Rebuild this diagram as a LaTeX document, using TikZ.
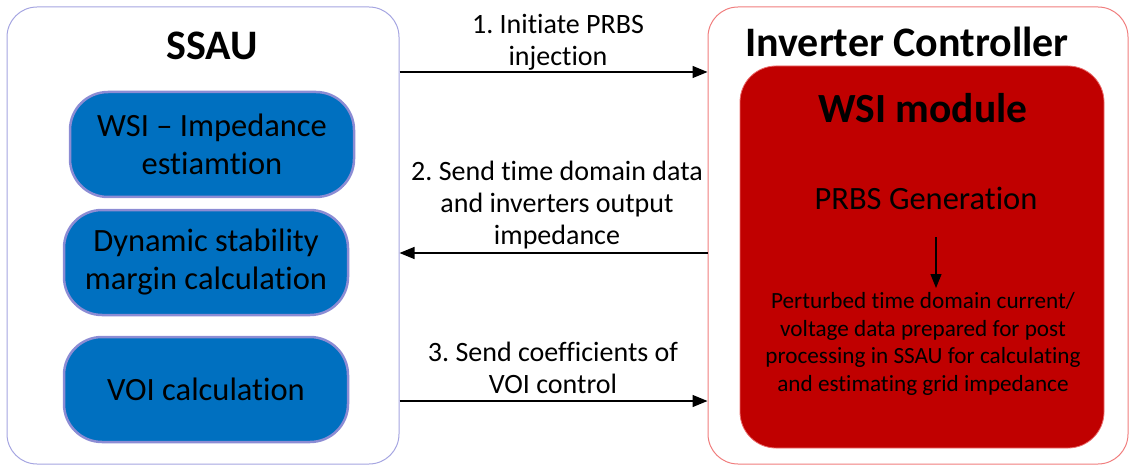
\documentclass[tikz,border=0pt]{standalone}
\usepackage{fontspec}
\setmainfont[Ligatures={NoCommon,NoRequired}]{Carlito}
\usetikzlibrary{arrows.meta}
\definecolor{ssauedge}{RGB}{165,165,225}
\definecolor{invedge}{RGB}{240,125,125}
\definecolor{modblue}{RGB}{0,112,192}
\definecolor{modedge}{RGB}{140,140,212}
\definecolor{wsired}{RGB}{192,0,0}
\definecolor{wsiedge}{RGB}{235,110,110}
\frenchspacing
\tikzset{
  frame/.style={draw, line width=1pt, rounded corners=30pt, inner sep=0pt},
  module/.style={draw=modedge, line width=2.5pt, fill=modblue, rounded corners=38pt,
    minimum width=284pt, minimum height=105pt, align=center, inner sep=0pt,
    font=\fontsize{32.5}{38}\selectfont},
  msg/.style={align=center, font=\fontsize{28}{32}\selectfont, inner sep=0pt},
  arr/.style={line width=1.3pt, -{Triangle[length=15pt,width=12pt]}},
}
\begin{document}
\begin{tikzpicture}[x=1pt,y=-1pt]
\useasboundingbox (0,0) rectangle (1129,465);
% outer frames
\node[frame, draw=ssauedge, minimum width=392pt, minimum height=457pt] (ssau) at (203,235.5) {};
\node[frame, draw=invedge, minimum width=420pt, minimum height=457pt] (inv) at (918,235.5) {};
\node[font=\bfseries\fontsize{42}{48}\selectfont] (ssaut) at (212,46) {SSAU};
\node[font=\bfseries\fontsize{42}{48}\selectfont] (invt) at (907,42) {Inverter Controller};
% SSAU modules
\node[module] (wsi) at (212,144.5) {WSI -- Impedance\\estiamtion};
\node[module] (dyn) at (206,262.5) {Dynamic stability\\margin calculation};
\node[module] (voi) at (206,389.5) {VOI calculation};
% WSI module inside the controller
\node[draw=wsiedge, line width=0.8pt, fill=wsired, rounded corners=36pt,
  minimum width=364pt, minimum height=382pt, inner sep=0pt] (wsim) at (922,257) {};
\node[font=\bfseries\fontsize{41.5}{48}\selectfont] (wsit) at (923,108) {WSI module};
\node[font=\fontsize{32.5}{38}\selectfont, inner sep=0pt] (prbs) at (926,198) {PRBS Generation};
\node[align=center, font=\fontsize{23.2}{27.5}\selectfont, inner sep=0pt] (pert) at (923,344)
  {Perturbed time domain current/\\voltage data prepared for post\\processing in SSAU for calculating\\and estimating grid impedance};
% PRBS flow arrow
\coordinate (a0) at (936,237);
\coordinate (a1) at (936,288);
\draw[line width=1.3pt, -{Triangle[length=14pt,width=11pt]}] (a0) -- (a1);
% messages
\node[msg] (m1) at (558,42) {1. Initiate PRBS\\injection};
\node[msg] (m2) at (557,205) {2. Send time domain data\\and inverters output\\impedance};
\node[msg] (m3) at (553,368) {3. Send coefficients of\\VOI control};
\coordinate (y1) at (0,72);
\coordinate (y2) at (0,253);
\coordinate (y3) at (0,401);
\draw[arr] (ssau.east |- y1) -- (inv.west |- y1);
\draw[arr] (inv.west |- y2) -- (ssau.east |- y2);
\draw[arr] (ssau.east |- y3) -- (inv.west |- y3);
\end{tikzpicture}
\end{document}
